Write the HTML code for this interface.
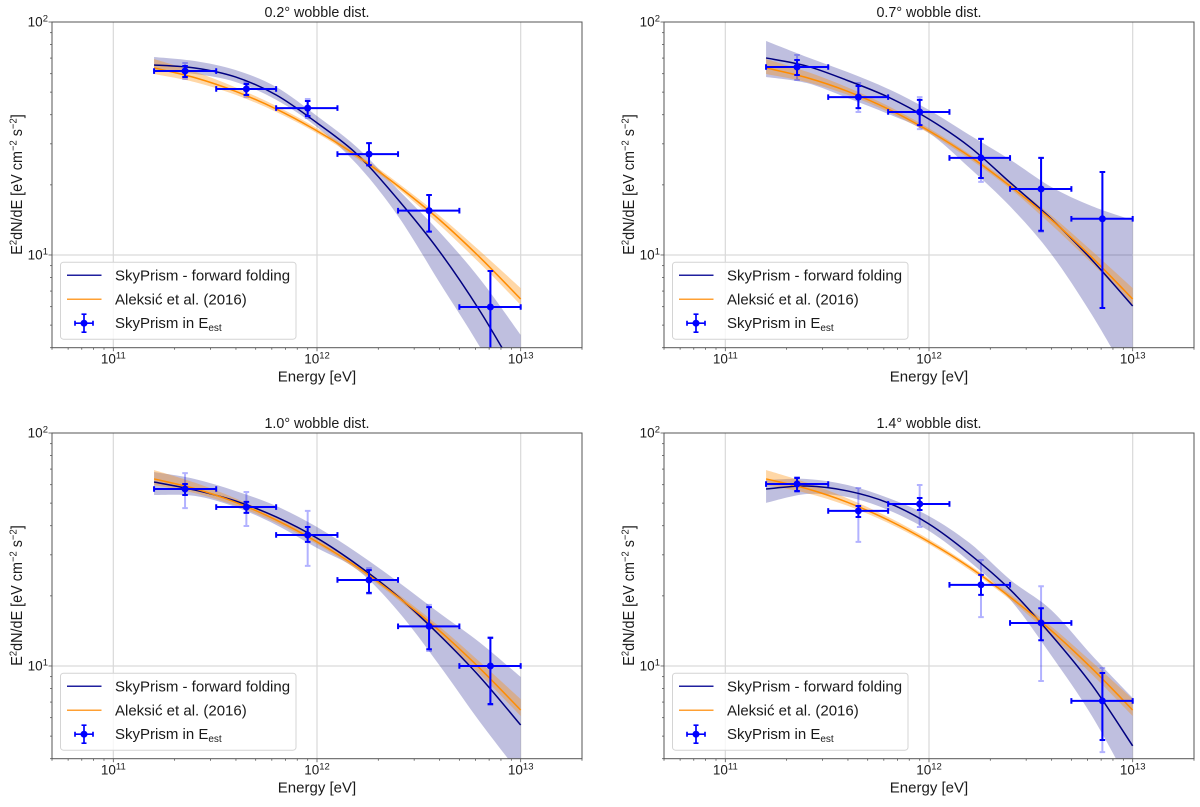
<!DOCTYPE html>
<html lang="en">
<head>
<meta charset="utf-8">
<title>SkyPrism wobble distance spectra</title>
<style>
html,body{margin:0;padding:0;background:#fff;width:1200px;height:807px;overflow:hidden}
svg{display:block}
text{font-family:"Liberation Sans",sans-serif;fill:#1a1a1a}
</style>
</head>
<body>
<svg id="figure" xmlns="http://www.w3.org/2000/svg" width="1200" height="807" viewBox="0 0 1200 807"></svg>
<script>
// Model curve energies in eV
const curveEnergy = [1.585e11, 2.512e11, 3.981e11, 6.31e11, 1e12, 1.585e12, 2.512e12, 3.981e12, 6.31e12, 1e13];

// Aleksic et al. (2016), shared by every panel
const aleksicLine  = [63.5, 57.7, 50.4, 42.3, 34.1, 26.5, 19.7, 14.2, 9.76, 6.47];
const aleksicUpper = [69.4, 61.2, 52.4, 43.6, 35.0, 27.1, 20.3, 14.8, 10.4, 7.21];
const aleksicLower = [59.8, 55.2, 48.7, 41.1, 33.3, 25.8, 19.2, 13.5, 9.2, 6.10];

// Flux-point energies and bin edges in eV
const pointEnergy = [2.25e11, 4.5e11, 9e11, 1.8e12, 3.55e12, 7.1e12];
const binLow  = [1.585e11, 3.2e11, 6.3e11, 1.26e12, 2.5e12, 5e12];
const binHigh = [3.2e11, 6.3e11, 1.26e12, 2.5e12, 5e12, 1e13];

// Panel 1: 0.2 deg
const p1Line  = [65.4, 63.5, 58.1, 48.6, 36.9, 26.9, 17.2, 10.4, 5.75, 2.91];
const p1Upper = [70.8, 68.0, 62.2, 52.6, 39.5, 28.8, 19.0, 12.6, 7.89, 4.54];
const p1Lower = [61.6, 59.8, 55.3, 46.3, 35.4, 24.3, 14.6, 7.66, 4.03, 1.96];
const p1Flux     = [61.6, 51.6, 42.7, 27.1, 15.5, 5.98];
const p1StatHigh = [64.7, 54.2, 45.8, 30.2, 18.1, 8.54];
const p1StatLow  = [58.1, 48.6, 39.5, 24.3, 12.6, 3.0];
const p1SysHigh  = [66.7, 55.3, 46.7, 30.2, 18.1, 8.54];
const p1SysLow   = [56.9, 47.6, 38.7, 24.1, 12.6, 3.0];

// Panel 2: 0.7 deg
const p2Line  = [70.1, 64.7, 56.1, 47.6, 38.3, 29.1, 20.4, 14.3, 9.52, 6.04];
const p2Upper = [82.9, 70.8, 61.0, 51.6, 41.9, 32.7, 25.6, 19.6, 16.2, 14.1];
const p2Lower = [58.1, 54.7, 47.2, 40.3, 33.4, 23.6, 16.1, 10.1, 5.53, 2.77];
const p2Flux     = [64.1, 47.6, 41.1, 26.1, 19.2, 14.3];
const p2StatHigh = [68.7, 53.1, 46.3, 31.5, 26.1, 22.7];
const p2StatLow  = [59.2, 42.7, 36.1, 21.4, 12.7, 5.92];
const p2SysHigh  = [72.2, 54.7, 47.6, 31.5, 26.1, 22.7];
const p2SysLow   = [56.4, 41.1, 34.7, 20.6, 12.6, 5.92];

// Panel 3: 1.0 deg
const p3Line  = [61.6, 56.9, 51.1, 43.6, 35.4, 27.1, 19.8, 13.6, 8.97, 5.58];
const p3Upper = [68.0, 63.5, 56.4, 48.6, 39.5, 30.5, 22.9, 16.9, 12.6, 8.97];
const p3Lower = [54.2, 53.7, 48.1, 40.3, 32.1, 25.8, 17.1, 10.1, 5.75, 3.41];
const p3Flux     = [57.5, 48.1, 36.5, 23.4, 14.8, 10.0];
const p3StatHigh = [60.4, 50.6, 39.5, 25.8, 17.9, 13.2];
const p3StatLow  = [54.2, 45.4, 34.1, 20.6, 11.8, 6.87];
const p3SysHigh  = [67.3, 55.8, 46.3, 26.3, 18.3, 13.3];
const p3SysLow   = [47.6, 39.9, 26.9, 20.4, 11.6, 6.80];

// Panel 4: 1.4 deg
const p4Line  = [57.5, 59.2, 56.4, 50.1, 40.7, 30.2, 21.2, 13.6, 8.29, 4.54];
const p4Upper = [62.9, 63.5, 59.8, 52.6, 44.0, 33.7, 23.4, 17.4, 11.1, 7.29];
const p4Lower = [50.1, 54.7, 53.1, 46.7, 38.0, 28.0, 19.2, 11.1, 6.10, 2.94];
const p4Flux     = [60.4, 46.3, 49.6, 22.3, 15.3, 7.08];
const p4StatHigh = [64.1, 48.6, 52.6, 24.6, 17.7, 9.33];
const p4StatLow  = [56.4, 43.6, 46.7, 20.2, 12.9, 4.81];
const p4SysHigh  = [64.7, 58.1, 59.8, 28.5, 22.0, 9.80];
const p4SysLow   = [55.8, 34.1, 39.5, 16.2, 8.62, 4.27];

// Axis tick values and labels
const xMajorExponents = [11, 12, 13];
const yMajorExponents = [1, 2];
const minorMultipliers = [2, 3, 4, 5, 6, 7, 8, 9];
const panelTitles = ['0.2', '0.7', '1.0', '1.4'];

const svg = document.getElementById('figure');
const NS = 'http://www.w3.org/2000/svg';
const xMin = 5e10, xMax = 2e13, yMin = 4, yMax = 100;

function make(parent, tag, attrs, text) {
  const el = document.createElementNS(NS, tag);
  for (const k in attrs) el.setAttribute(k, attrs[k]);
  if (text !== undefined) el.textContent = text;
  parent.appendChild(el);
  return el;
}

// Smooth path through points (Catmull-Rom converted to cubic Bezier)
function smooth(pts, move) {
  let d = (move ? 'M' : 'L') + pts[0][0].toFixed(2) + ' ' + pts[0][1].toFixed(2);
  for (let i = 0; i < pts.length - 1; i++) {
    const a = pts[Math.max(i - 1, 0)], b = pts[i], c = pts[i + 1], e = pts[Math.min(i + 2, pts.length - 1)];
    d += 'C' + (b[0] + (c[0] - a[0]) / 6).toFixed(2) + ' ' + (b[1] + (c[1] - a[1]) / 6).toFixed(2) + ' ' +
         (c[0] - (e[0] - b[0]) / 6).toFixed(2) + ' ' + (c[1] - (e[1] - b[1]) / 6).toFixed(2) + ' ' +
         c[0].toFixed(2) + ' ' + c[1].toFixed(2);
  }
  return d;
}

function power(parent, x, y, anchor, exponent) {
  const t = make(parent, 'text', {x: x, y: y, 'text-anchor': anchor, 'font-size': 13.5});
  
  
  make(t, 'tspan', {}, '10');
  make(t, 'tspan', {dy: -5, 'font-size': 9.5}, String(exponent));
  return t;
}

function drawPanel(index, left, top, line, upper, lower, flux, statHigh, statLow, sysHigh, sysLow) {
  const width = 530, height = 325.7, right = left + width, bottom = top + height;
  const xs = e => left + (Math.log10(e) - Math.log10(xMin)) / (Math.log10(xMax) - Math.log10(xMin)) * width;
  const ys = v => top + (Math.log10(yMax) - Math.log10(v)) / (Math.log10(yMax) - Math.log10(yMin)) * height;
  const g = make(svg, 'g', {});
  
  

  const clipId = 'clip' + index;
  const cp = make(g, 'clipPath', {id: clipId});
  make(cp, 'rect', {x: left, y: top, width: width, height: height});

  // Grid
  const grid = make(g, 'g', {stroke: '#d9d9d9', 'stroke-width': 1.2});
  
  
  xMajorExponents.forEach(p => {
    const x = xs(Math.pow(10, p));
    const l = make(grid, 'line', {x1: x, x2: x, y1: top, y2: bottom});
    
    
  });
  const gy = ys(10);
  const gl = make(grid, 'line', {x1: left, x2: right, y1: gy, y2: gy});
  
  

  const plot = make(g, 'g', {'clip-path': 'url(#' + clipId + ')'});
  
  

  const toPts = arr => arr.map((v, i) => [xs(curveEnergy[i]), ys(v)]);
  const band = (up, lo, fill, name) => {
    const rev = toPts(lo).reverse();
    const b = make(plot, 'path', {d: smooth(toPts(up), true) + smooth(rev, false) + 'Z', fill: fill, stroke: 'none'});
    
    
  };
  band(upper, lower, 'rgba(0,0,128,0.25)', 'skyprism-band');
  band(aleksicUpper, aleksicLower, 'rgba(255,140,0,0.35)', 'aleksic-band');

  const curve = (arr, color, name) => {
    const c = make(plot, 'path', {d: smooth(toPts(arr), true), fill: 'none', stroke: color, 'stroke-width': 1.5});
    
    
  };

  // Flux points
  const vbar = (x, hi, lo, opacity, w) => {
    const yh = ys(hi), yl = ys(lo);
    const s = make(plot, 'path', {
      d: 'M' + x + ' ' + yh + 'V' + yl + 'M' + (x - 2.8) + ' ' + yh + 'h5.6M' + (x - 2.8) + ' ' + yl + 'h5.6',
      stroke: '#0000ff', 'stroke-width': w, 'stroke-opacity': opacity, fill: 'none'
    });
    
    
  };
  pointEnergy.forEach((e, i) => {
    vbar(xs(e), sysHigh[i], sysLow[i], 0.3, 2);
  });
  curve(line, '#000080', 'skyprism-forward-folding-line');
  curve(aleksicLine, '#ff8c00', 'aleksic-line');
  pointEnergy.forEach((e, i) => {
    const x = xs(e), y = ys(flux[i]);
    vbar(x, statHigh[i], statLow[i], 1, 2);
    const x0 = xs(binLow[i]), x1 = xs(binHigh[i]);
    const h = make(plot, 'path', {
      d: 'M' + x0 + ' ' + y + 'H' + x1 + 'M' + x0 + ' ' + (y - 2.8) + 'v5.6M' + x1 + ' ' + (y - 2.8) + 'v5.6',
      stroke: '#0000ff', 'stroke-width': 2, fill: 'none'
    });
    
    
    const m = make(plot, 'circle', {cx: x, cy: y, r: 3.5, fill: '#0000ff'});
    
    
  });

  // Spines
  const frame = make(g, 'rect', {x: left, y: top, width: width, height: height, fill: 'none', stroke: '#555', 'stroke-width': 1});
  
  

  // Ticks
  const ticks = make(g, 'g', {stroke: '#555', 'stroke-width': 0.8});
  
  
  [10, 11, 12, 13].forEach(p => {
    minorMultipliers.forEach(m => {
      const v = m * Math.pow(10, p);
      if (v < xMin || v > xMax) return;
      const x = xs(v);
      make(ticks, 'line', {x1: x, x2: x, y1: bottom, y2: bottom + 2});
    });
  });
  [0, 1].forEach(p => {
    minorMultipliers.forEach(m => {
      const v = m * Math.pow(10, p);
      if (v < yMin || v > yMax) return;
      const y = ys(v);
      make(ticks, 'line', {x1: left - 2, x2: left, y1: y, y2: y});
    });
  });
  xMajorExponents.forEach(p => {
    const x = xs(Math.pow(10, p));
    make(ticks, 'line', {x1: x, x2: x, y1: bottom, y2: bottom + 3.5});
    power(g, x, bottom + 16, 'middle', p);
  });
  yMajorExponents.forEach(p => {
    const y = ys(Math.pow(10, p));
    make(ticks, 'line', {x1: left - 3.5, x2: left, y1: y, y2: y});
    power(g, left - 4, y + 4.5, 'end', p);
  });

  // Title
  const ttl = make(g, 'text', {x: left + width / 2, y: top - 5, 'text-anchor': 'middle', 'font-size': 14.3}, panelTitles[index] + '° wobble dist.');
  
  

  // Axis labels
  const xl = make(g, 'text', {x: left + width / 2, y: bottom + 34, 'text-anchor': 'middle', 'font-size': 15}, 'Energy [eV]');
  
  

  const cy = top + 162.5;
  const yl = make(g, 'text', {transform: 'translate(' + (left - 30) + ' ' + cy + ') rotate(-90) scale(0.9 1)', 'text-anchor': 'middle', 'font-size': 16});
  
  
  make(yl, 'tspan', {}, 'E');
  make(yl, 'tspan', {dy: -5.5, 'font-size': 10.5}, '2');
  make(yl, 'tspan', {dy: 5.5}, 'dN/dE [eV cm');
  make(yl, 'tspan', {dy: -5.5, 'font-size': 10.5}, '−2');
  make(yl, 'tspan', {dy: 5.5}, ' s');
  make(yl, 'tspan', {dy: -5.5, 'font-size': 10.5}, '−2');
  make(yl, 'tspan', {dy: 5.5}, ']');

  // Legend
  const lx = left + 8.5, ly = bottom - 85.5;
  const lg = make(g, 'g', {});
  
  
  make(lg, 'rect', {x: lx, y: ly, width: 235.5, height: 77, rx: 3, fill: 'rgba(255,255,255,0.8)', stroke: '#d4d4d4', 'stroke-width': 1});
  const swatch = (yy, color) => make(lg, 'line', {x1: lx + 6.5, x2: lx + 41, y1: yy, y2: yy, stroke: color, 'stroke-width': 1.5});
  const label = (yy, txt) => make(lg, 'text', {x: lx + 54.5, y: yy, 'font-size': 15}, txt);

  const s1 = swatch(ly + 13, '#1f1f9e');
  
  
  const t1 = label(ly + 18.5, 'SkyPrism - forward folding');
  
  

  const s2 = swatch(ly + 37, '#ffa033');
  
  
  const t2 = label(ly + 42.5, 'Aleksić et al. (2016)');
  
  

  const mx = lx + 23.5, my = ly + 61;
  const mk = make(lg, 'path', {
    d: 'M' + (mx - 9) + ' ' + my + 'H' + (mx + 9) + 'M' + mx + ' ' + (my - 9) + 'V' + (my + 9) +
       'M' + (mx - 9) + ' ' + (my - 2.5) + 'v5M' + (mx + 9) + ' ' + (my - 2.5) + 'v5M' + (mx - 2.5) + ' ' + (my - 9) + 'h5M' + (mx - 2.5) + ' ' + (my + 9) + 'h5',
    stroke: '#0000ff', 'stroke-width': 1.7, fill: 'none'
  });
  
  
  const mc = make(lg, 'circle', {cx: mx, cy: my, r: 3.5, fill: '#0000ff'});
  
  
  const t3 = label(ly + 66, 'SkyPrism in E');
  
  
  make(t3, 'tspan', {dy: 3, 'font-size': 10}, 'est');
}

drawPanel(0, 52, 22, p1Line, p1Upper, p1Lower, p1Flux, p1StatHigh, p1StatLow, p1SysHigh, p1SysLow);
drawPanel(1, 664, 22, p2Line, p2Upper, p2Lower, p2Flux, p2StatHigh, p2StatLow, p2SysHigh, p2SysLow);
drawPanel(2, 52, 433, p3Line, p3Upper, p3Lower, p3Flux, p3StatHigh, p3StatLow, p3SysHigh, p3SysLow);
drawPanel(3, 664, 433, p4Line, p4Upper, p4Lower, p4Flux, p4StatHigh, p4StatLow, p4SysHigh, p4SysLow);
</script>
</body>
</html>
